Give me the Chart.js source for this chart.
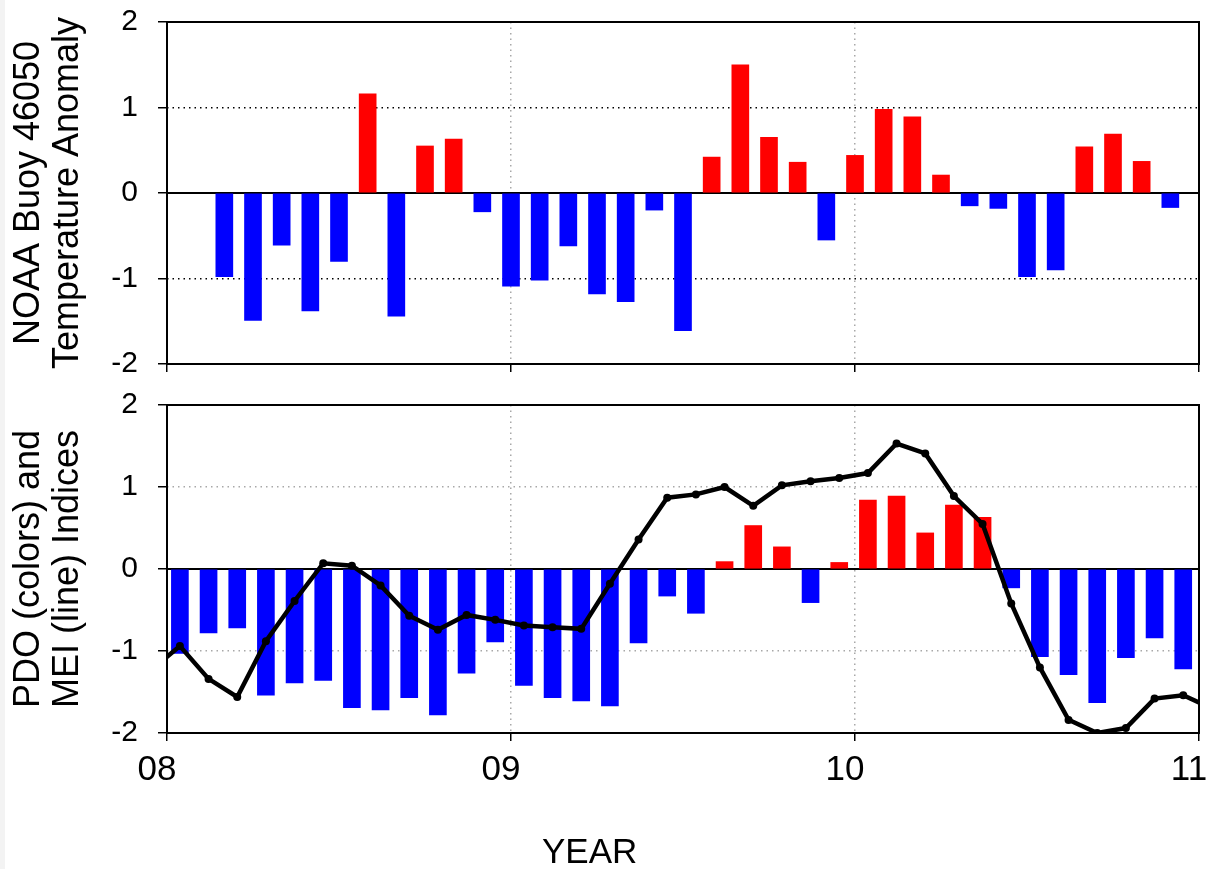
<!DOCTYPE html>
<html>
<head>
<meta charset="utf-8">
<script src="https://cdn.jsdelivr.net/npm/chart.js@4.4.1/dist/chart.umd.min.js"></script>
<style>
  html, body { margin: 0; padding: 0; background: #fff; overflow: hidden; }
  #wrap { position: relative; width: 1207px; height: 869px; }
  #edge { position: absolute; left: 0; top: 0; width: 5px; height: 869px; background: #f3f3f3; }
  #topChart { position: absolute; left: 0; top: 0; }
  #bottomChart { position: absolute; left: 0; top: 380px; }
  #xTitle { position: absolute; left: 542px; top: 833px; font: 35px "Liberation Sans", Arial, sans-serif; line-height: 35px; color: #000; }
</style>
</head>
<body>
<div id="wrap">
  <div id="edge"></div>
  <canvas id="topChart" width="1207" height="380"></canvas>
  <canvas id="bottomChart" width="1207" height="489"></canvas>
  <div id="xTitle">YEAR</div>
</div>
<script>
// x axis ticks
const tickYears = [2008, 2009, 2010, 2011];
const tickLabels = ['08', '09', '10', '11'];

// NOAA buoy 46050 monthly temperature anomaly, Mar 2008 .. Dec 2010
const buoyStartMonth = 2; // months after Jan 2008
const buoyAnom = [
  -0.98, -1.49, -0.61, -1.38, -0.80, 1.16, -1.44, 0.55, 0.63, -0.22,
  -1.09, -1.02, -0.62, -1.18, -1.27, -0.20, -1.61, 0.42, 1.50, 0.65, 0.36, -0.55, 0.44, 0.98,
  0.89, 0.21, -0.15, -0.18, -0.98, -0.90, 0.54, 0.69, 0.37, -0.17
];

// PDO monthly index, Jan 2008 .. Dec 2010
const pdoStartMonth = 0;
const pdo = [
  -1.03, -0.78, -0.72, -1.54, -1.39, -1.36, -1.69, -1.72, -1.57, -1.78, -1.27, -0.89,
  -1.42, -1.57, -1.61, -1.67, -0.90, -0.33, -0.54, 0.09, 0.53, 0.27, -0.41, 0.08,
  0.84, 0.89, 0.44, 0.78, 0.63, -0.23, -1.07, -1.29, -1.63, -1.08, -0.84, -1.22
];

// MEI monthly index, Dec 2007 .. Jan 2011
const meiStartMonth = -1;
const mei = [
  -1.23,
  -0.94, -1.34, -1.56, -0.88, -0.39, 0.07, 0.04, -0.20, -0.57, -0.74, -0.56, -0.62,
  -0.69, -0.71, -0.73, -0.18, 0.36, 0.87, 0.91, 1.00, 0.77, 1.02, 1.07, 1.11,
  1.17, 1.53, 1.41, 0.89, 0.55, -0.42, -1.20, -1.84, -2.00, -1.94, -1.58, -1.54,
  -1.70
];

const FONT = '"Liberation Sans", Arial, sans-serif';
Chart.defaults.font.family = FONT;
Chart.defaults.color = '#000';

const toPoints = (vals, start, shift) =>
  vals.map((v, i) => ({ x: 2008 + (start + i + shift) / 12, y: v }));
const barColors = vals => vals.map(v => v > 0 ? '#ff0000' : '#0000ff');

// zero line under the marks, black frame over everything
const framePlugin = {
  id: 'frame',
  beforeDatasetsDraw(chart) {
    const { ctx, chartArea: a, scales: { y } } = chart;
    const y0 = y.getPixelForValue(0);
    ctx.save();
    ctx.setLineDash([]);
    ctx.strokeStyle = '#000';
    ctx.lineWidth = 2;
    ctx.beginPath();
    ctx.moveTo(a.left, y0);
    ctx.lineTo(a.right, y0);
    ctx.stroke();
    ctx.restore();
  },
  afterDraw(chart) {
    const { ctx, chartArea: a } = chart;
    ctx.save();
    ctx.setLineDash([]);
    ctx.strokeStyle = '#000';
    ctx.lineWidth = 2;
    ctx.strokeRect(a.left, a.top, a.right - a.left, a.bottom - a.top);
    ctx.restore();
  }
};

function xScale(showLabels, height) {
  return {
    type: 'linear', min: 2008, max: 2011, offset: false,
    afterBuildTicks: s => { s.ticks = tickYears.map(v => ({ value: v })); },
    ticks: {
      display: showLabels, autoSkip: false, maxRotation: 0,
      padding: 8, labelOffset: -10,
      font: { size: 35 },
      callback: v => tickLabels[tickYears.indexOf(v)]
    },
    grid: {
      offset: false,
      color: c => (c.tick && (c.tick.value === 2009 || c.tick.value === 2010)) ? '#a8a8a8' : 'rgba(0,0,0,0)',
      lineWidth: 1.5, tickLength: 8, tickColor: '#000', tickWidth: 1.5
    },
    border: { display: false, dash: [1.5, 4] },
    afterFit: s => { s.height = height; s.paddingLeft = 0; s.paddingRight = 0; }
  };
}

function yScale(title, gridColor) {
  return {
    min: -2, max: 2,
    ticks: { stepSize: 1, padding: 20, font: { size: 30 } },
    grid: {
      color: c => (c.tick && Math.abs(c.tick.value) === 1) ? gridColor : 'rgba(0,0,0,0)',
      lineWidth: 1.5, tickLength: 9, tickColor: '#000', tickWidth: 1.5
    },
    border: { display: false, dash: [1.5, 4] },
    title: {
      display: true, text: title, color: '#000',
      font: { size: 36, lineHeight: 1.08 },
      padding: { top: 10, bottom: 0 }
    },
    afterFit: s => { s.width = 167; s.paddingTop = 0; s.paddingBottom = 0; }
  };
}

const baseOptions = (pad, xs, ys) => ({
  responsive: false,
  animation: false,
  layout: { padding: pad },
  plugins: { legend: { display: false }, tooltip: { enabled: false } },
  scales: { x: xs, y: ys }
});

new Chart(document.getElementById('topChart'), {
  type: 'bar',
  data: {
    datasets: [{
      data: toPoints(buoyAnom, buoyStartMonth, 0),
      backgroundColor: barColors(buoyAnom),
      borderWidth: 0,
      barThickness: 17
    }]
  },
  options: baseOptions({ top: 22, right: 8, left: 0, bottom: 0 },
    xScale(false, 16),
    yScale(['NOAA Buoy 46050', 'Temperature Anomaly'], '#000')),
  plugins: [framePlugin]
});

new Chart(document.getElementById('bottomChart'), {
  type: 'bar',
  data: {
    datasets: [{
      type: 'line',
      data: toPoints(mei, meiStartMonth, 0.45),
      borderColor: '#000',
      backgroundColor: '#000',
      borderWidth: 4.5,
      pointRadius: 4,
      pointBackgroundColor: '#000',
      pointBorderWidth: 0,
      tension: 0,
      clip: 0,
      order: 0
    }, {
      data: toPoints(pdo, pdoStartMonth, 0.45),
      backgroundColor: barColors(pdo),
      borderWidth: 0,
      barThickness: 17,
      order: 1
    }]
  },
  options: baseOptions({ top: 25, right: 8, left: 0, bottom: 0 },
    xScale(true, 136),
    yScale(['PDO (colors) and', 'MEI (line) Indices'], '#a8a8a8')),
  plugins: [framePlugin]
});
</script>
</body>
</html>
